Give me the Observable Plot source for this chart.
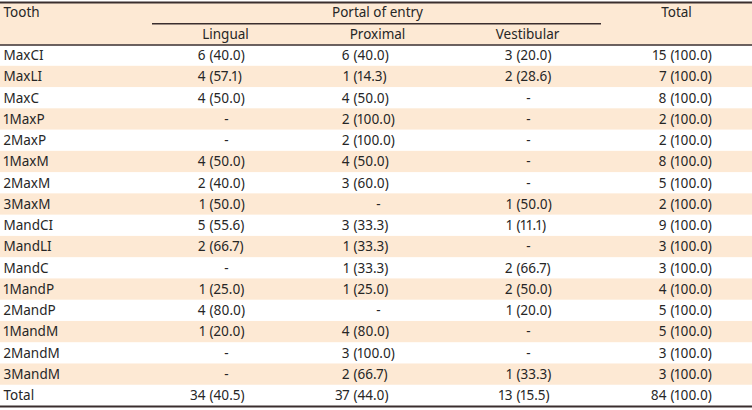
<!DOCTYPE html>
<html>
<head>
<meta charset="utf-8">
<script src="https://cdn.jsdelivr.net/npm/d3@7"></script>
<script src="https://cdn.jsdelivr.net/npm/@observablehq/plot@0.6"></script>
<style>
  html, body { margin: 0; padding: 0; background: #fff; }
  #chart svg { display: block; }
</style>
</head>
<body>
<div id="chart"></div>
<script>
// ---- data ----
const teeth = ["MaxCI","MaxLI","MaxC","1MaxP","2MaxP","1MaxM","2MaxM","3MaxM","MandCI","MandLI","MandC","1MandP","2MandP","1MandM","2MandM","3MandM","Total"];
const lingualN   = [6,4,4,null,null,4,2,1,5,2,null,1,4,1,null,null,34];
const lingualPct = [40.0,57.1,50.0,null,null,50.0,40.0,50.0,55.6,66.7,null,25.0,80.0,20.0,null,null,40.5];
const proximalN   = [6,1,4,2,2,4,3,null,3,1,1,1,null,4,3,2,37];
const proximalPct = [40.0,14.3,50.0,100.0,100.0,50.0,60.0,null,33.3,33.3,33.3,25.0,null,80.0,100.0,66.7,44.0];
const vestibularN   = [3,2,null,null,null,null,null,1,1,null,2,2,1,null,null,1,13];
const vestibularPct = [20.0,28.6,null,null,null,null,null,50.0,11.1,null,66.7,50.0,20.0,null,null,33.3,15.5];
const totalN   = [15,7,8,2,2,8,5,2,9,3,3,4,5,5,3,3,84];
const totalPct = totalN.map(() => 100.0);
const groupHeader = "Portal of entry";
const subHeaders = ["Lingual","Proximal","Vestibular"];

// ---- layout (x anchors in px; rows as index units) ----
const W = 752, H = 410;
const cols = [
  {key: "Lingual",    n: lingualN,    pct: lingualPct,    paren: 209, center: 226},
  {key: "Proximal",   n: proximalN,   pct: proximalPct,   paren: 353, center: 378},
  {key: "Vestibular", n: vestibularN, pct: vestibularPct, paren: 516, center: 528},
  {key: "Total",      n: totalN,      pct: totalPct,      paren: 670, center: 681}
];
const headerRows = 2;
const nRows = headerRows + teeth.length;

const cells = [];
cols.forEach(c => {
  teeth.forEach((t, i) => {
    cells.push({row: headerRows + i + 0.5, n: c.n[i], pct: c.pct[i], paren: c.paren, center: c.center});
  });
});
const filled = cells.filter(d => d.n != null);
const empty = cells.filter(d => d.n == null);
const rowIdx = teeth.map((t, i) => ({t, i, row: headerRows + i}));

const tan = "#fde9d4";
const ink = "#262626";
const line = "#3a2e2e";
const font = "'Noto Sans', sans-serif";
const fsLabel = 13.5;
const fsNum = 13.5;
const numVariant = "proportional-nums";

const chart = Plot.plot({
  width: W,
  height: H,
  margin: 0,
  style: {fontFamily: font, fontSize: "13px", color: ink, background: "#fff"},
  x: {type: "linear", domain: [0, W], range: [0, W], axis: null},
  y: {type: "linear", domain: [0, nRows], range: [2, 406], axis: null},
  marks: [
    // header background
    Plot.rect([0], {x1: 0, x2: W, y1: 0, y2: headerRows, fill: tan}),
    // zebra rows
    Plot.rect(rowIdx.filter(d => d.i % 2 === 1), {x1: 0, x2: W, y1: "row", y2: d => d.row + 1, fill: tan}),
    // rules
    Plot.ruleY([0], {stroke: line, strokeWidth: 2}),
    Plot.ruleY([headerRows], {stroke: line, strokeWidth: 1.5}),
    Plot.ruleY([nRows], {stroke: line, strokeWidth: 2}),
    Plot.ruleY([1], {x1: 152, x2: 601, stroke: line, strokeWidth: 1.5}),
    // header text
    Plot.text(["Tooth"], {x: 3, y: 0.5, text: d => d, textAnchor: "start", fill: ink, fontSize: fsLabel}),
    Plot.text([groupHeader], {x: 377, y: 0.5, text: d => d, textAnchor: "middle", fill: ink, fontSize: fsLabel}),
    Plot.text(["Total"], {x: 676, y: 0.5, text: d => d, textAnchor: "middle", fill: ink, fontSize: fsLabel}),
    Plot.text(subHeaders, {x: (d, i) => cols[i].center - 1, y: 1.5, text: d => d, textAnchor: "middle", fill: ink, fontSize: fsLabel}),
    // row labels
    Plot.text(rowIdx, {x: 3, y: d => d.row + 0.5, text: "t", textAnchor: "start", fill: ink, fontSize: fsLabel, fontVariant: numVariant}),
    // counts (right-aligned before the paren)
    Plot.text(filled, {x: d => d.paren - 4, y: "row", text: d => String(d.n), textAnchor: "end", fill: ink, fontSize: fsNum, fontVariant: numVariant}),
    // percents (left-aligned at the paren)
    Plot.text(filled, {x: "paren", y: "row", text: d => `(${d.pct.toFixed(1)})`, textAnchor: "start", fill: ink, fontSize: fsNum, fontVariant: numVariant}),
    // dashes
    Plot.text(empty, {x: "center", y: "row", text: () => "-", textAnchor: "middle", fill: ink, fontSize: fsNum})
  ]
});
document.getElementById("chart").appendChild(chart);
</script>
</body>
</html>
